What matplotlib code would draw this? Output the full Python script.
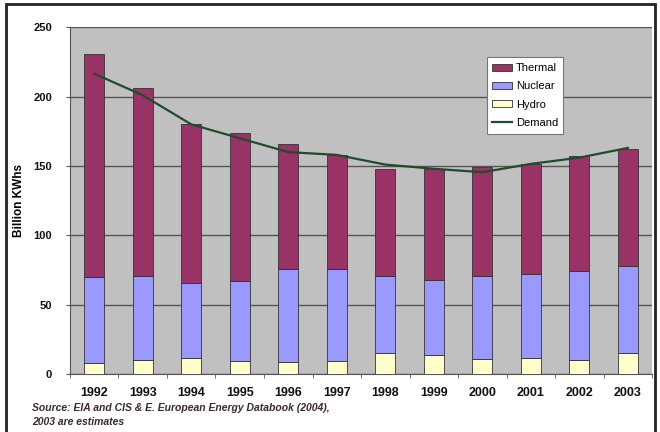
import matplotlib.pyplot as plt
import numpy as np
from matplotlib.patches import Rectangle

# Datos (miles de millones de kWh)
years = ['1992', '1993', '1994', '1995', '1996', '1997',
         '1998', '1999', '2000', '2001', '2002', '2003']
hydro = [8, 10.5, 11.5, 9.5, 8.5, 9.5, 15.5, 14, 11, 11.5, 10, 15.5]
nuclear = [62, 60.5, 54, 57.5, 67.5, 66, 55, 53.5, 60, 60.5, 64, 62.5]
thermal = [161, 135.5, 115, 106.5, 89.5, 82.5, 77.5, 80.5, 78.5, 79.5, 83.5, 84.5]
demand = [216.5, 201, 180, 170, 160, 158, 151, 148, 145.5, 151.5, 156, 163]

fig = plt.figure(figsize=(6.6, 4.32), dpi=100)
ax = fig.add_axes([0.106, 0.134, 0.882, 0.803])

x = np.arange(len(years))
ancho = 0.41
bottom_nuc = np.array(hydro)
bottom_th = bottom_nuc + np.array(nuclear)

b_hyd = ax.bar(x, hydro, ancho, color='#FFFFCC', edgecolor='#333333', linewidth=0.6, zorder=3)
b_nuc = ax.bar(x, nuclear, ancho, bottom=bottom_nuc, color='#9999FF', edgecolor='#333333', linewidth=0.6, zorder=3)
b_th = ax.bar(x, thermal, ancho, bottom=bottom_th, color='#993366', edgecolor='#333333', linewidth=0.6, zorder=3)
l_dem, = ax.plot(x, demand, color='#1F4D2B', linewidth=1.6, zorder=4)

ax.set_facecolor('#C0C0C0')
ax.set_xlim(-0.5, len(years) - 0.5)
ax.set_ylim(0, 250)
ax.set_yticks([0, 50, 100, 150, 200, 250])
ax.yaxis.grid(True, color='#555555', linewidth=1.0, zorder=0)
ax.set_axisbelow(True)

ax.set_xticks(x)
ax.set_xticklabels(years)
ax.set_xticks(np.arange(len(years) + 1) - 0.5, minor=True)
ax.tick_params(axis='x', which='major', length=0, pad=9)
ax.tick_params(axis='x', which='minor', length=3, direction='out', color='#555555')
ax.tick_params(axis='y', length=3, color='#555555', pad=10)
for lbl in ax.get_xticklabels():
    lbl.set_fontfamily('Liberation Sans')
    lbl.set_fontsize(9)
    lbl.set_fontweight('bold')
    lbl.set_color('#111111')
for lbl in ax.get_yticklabels():
    lbl.set_fontfamily('Liberation Sans')
    lbl.set_fontsize(8)
    lbl.set_fontweight('bold')
    lbl.set_color('#111111')

for lado in ['top', 'right']:
    ax.spines[lado].set_visible(False)
ax.spines['left'].set_color('#555555')
ax.spines['bottom'].set_color('#555555')

ax.set_ylabel('Billion KWhs', fontfamily='Liberation Sans', fontsize=8.5, fontweight='bold')
ax.yaxis.set_label_coords(-0.077, 0.5)

# Leyenda en el orden del original
leg = ax.legend([b_th, b_nuc, b_hyd, l_dem], ['Thermal', 'Nuclear', 'Hydro', 'Demand'],
                loc='upper left', bbox_to_anchor=(0.716, 0.913), borderaxespad=0,
                fancybox=False, framealpha=1, edgecolor='#777777',
                prop={'family': 'Liberation Sans', 'size': 8},
                handlelength=1.8, handleheight=0.6, labelspacing=0.75,
                borderpad=0.5, handletextpad=0.3)
leg.get_frame().set_linewidth(0.8)

fig.text(0.048, 0.055, 'Source: EIA and CIS & E. European Energy Databook (2004),',
         fontfamily='Liberation Sans', fontsize=7.5, style='italic', fontweight='bold',
         color='#3a2a2a', va='center')
fig.text(0.048, 0.024, '2003 are estimates',
         fontfamily='Liberation Sans', fontsize=7.5, style='italic', fontweight='bold',
         color='#3a2a2a', va='center')

# Marco exterior
fig.patches.append(Rectangle((0.009, -0.05), 0.983, 1.04, transform=fig.transFigure,
                             fill=False, edgecolor='#222222', linewidth=2))

plt.savefig('out.png', dpi=100)
